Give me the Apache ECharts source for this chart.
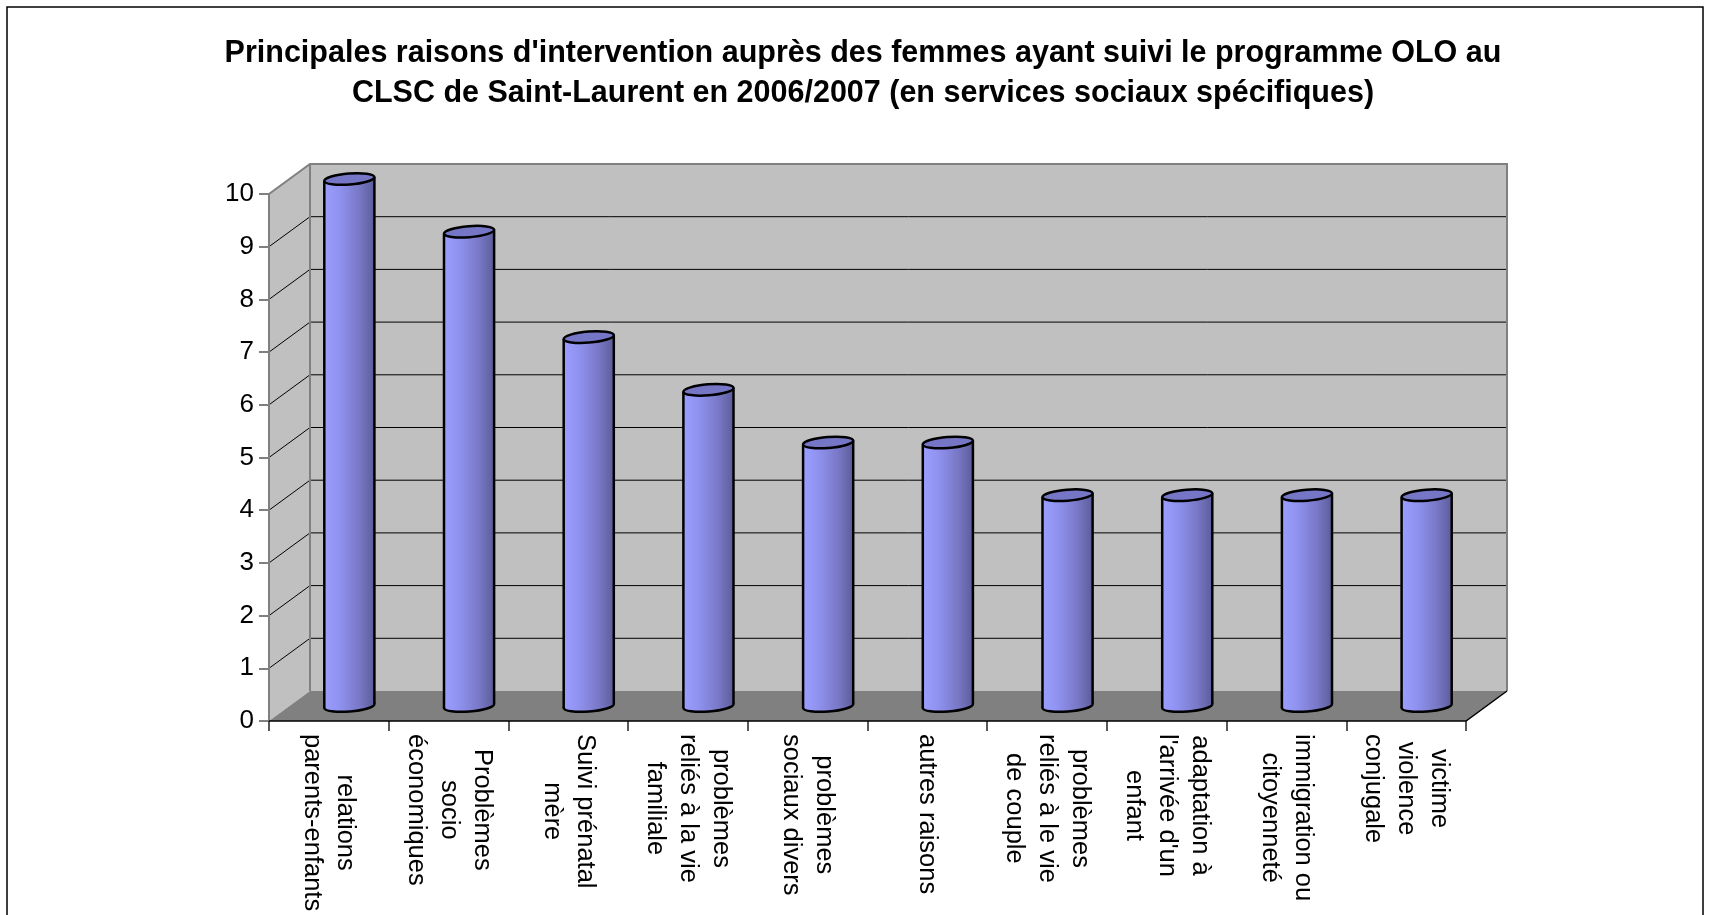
<!DOCTYPE html>
<html>
<head>
<meta charset="utf-8">
<title>Raisons d'intervention OLO</title>
<script src="https://cdn.jsdelivr.net/npm/echarts@6/dist/echarts.min.js"></script>
<style>
  html, body { margin: 0; padding: 0; background: #fff; }
  #main { width: 1709px; height: 915px; }
</style>
</head>
<body>
<div id="main"></div>
<script>
const categories = [
  'relations\nparents-enfants',
  'Problèmes\nsocio\néconomiques',
  'Suivi prénatal\nmère',
  'problèmes\nreliés à la vie\nfamiliale',
  'problèmes\nsociaux divers',
  'autres raisons',
  'problèmes\nreliés à le vie\nde couple',
  "adaptation à\nl'arrivée d'un\nenfant",
  'immigration ou\ncitoyenneté',
  'victime\nviolence\nconjugale'
];
const counts = [10, 9, 7, 6, 5, 5, 4, 4, 4, 4];
const yTicks = [0, 1, 2, 3, 4, 5, 6, 7, 8, 9, 10];

const FONT = 'Arial, "Liberation Sans", sans-serif';
// oblique offset of the back wall (3D depth)
const DEPTH_X = 41, DEPTH_Y = -30;
const TILT = 0.08;

let chart = echarts.init(document.getElementById('main'));

function renderWalls(params, api) {
  if (params.dataIndex !== 0) return;
  const cs = params.coordSys;
  const x0 = cs.x, x1 = cs.x + cs.width;
  const yBot = api.coord([0, yTicks[0]])[1];
  const yTop = api.coord([0, yTicks[yTicks.length - 1]])[1];
  const bx0 = x0 + DEPTH_X, bx1 = x1 + DEPTH_X;
  const children = [];
  children.push({
    type: 'rect',
    shape: { x: bx0, y: yTop + DEPTH_Y, width: x1 - x0, height: yBot - yTop },
    style: { fill: '#c0c0c0' }
  });
  children.push({
    type: 'polygon',
    shape: { points: [[x0, yBot], [x0, yTop], [bx0, yTop + DEPTH_Y], [bx0, yBot + DEPTH_Y]] },
    style: { fill: '#c0c0c0' }
  });
  yTicks.slice(1, -1).forEach(function (t) {
    const y = api.coord([0, t])[1];
    children.push({
      type: 'polyline',
      shape: { points: [[x0, y], [bx0, y + DEPTH_Y], [bx1, y + DEPTH_Y]] },
      style: { stroke: '#000', lineWidth: 1, fill: null }
    });
  });
  children.push({
    type: 'polygon',
    shape: { points: [[x0, yBot], [bx0, yBot + DEPTH_Y], [bx1, yBot + DEPTH_Y], [x1, yBot]] },
    style: { fill: '#808080' }
  });
  children.push({
    type: 'polyline',
    shape: { points: [[x0, yBot], [x0, yTop], [bx0, yTop + DEPTH_Y], [bx1, yTop + DEPTH_Y], [bx1, yBot + DEPTH_Y]] },
    style: { stroke: '#808080', lineWidth: 2, fill: null }
  });
  children.push({
    type: 'line',
    shape: { x1: bx0, y1: yTop + DEPTH_Y, x2: bx0, y2: yBot + DEPTH_Y },
    style: { stroke: '#808080', lineWidth: 2 }
  });
  children.push({
    type: 'polyline',
    shape: { points: [[x0, yBot], [x1, yBot], [bx1, yBot + DEPTH_Y]] },
    style: { stroke: '#000', lineWidth: 1.5, fill: null }
  });
  return { type: 'group', children: children };
}

function renderCylinder(params, api) {
  const i = api.value(0), v = api.value(1);
  const top = api.coord([i, v]);
  const base = api.coord([i, 0]);
  const band = api.size([1, 0])[0];
  const rx = band * 0.21, ry = 5.5;
  const cx = top[0] + DEPTH_X / 2;
  const ty = top[1] + DEPTH_Y / 2, by = base[1] + DEPTH_Y / 2;
  const ex = rx * Math.cos(TILT), ey = rx * Math.sin(TILT);
  const bodyFill = function () {
    return new echarts.graphic.LinearGradient(0, 0, 1, 0, [
      { offset: 0, color: '#9c9eff' },
      { offset: 0.3, color: '#9092f0' },
      { offset: 0.7, color: '#7878c6' },
      { offset: 1, color: '#5c5c9a' }
    ]);
  };
  return {
    type: 'group',
    children: [
      {
        type: 'ellipse', shape: { cx: cx, cy: by, rx: rx, ry: ry },
        rotation: TILT, originX: cx, originY: by,
        style: { fill: bodyFill(), stroke: '#000', lineWidth: 2.5 }
      },
      {
        type: 'polygon',
        shape: { points: [[cx - ex, ty + ey], [cx + ex, ty - ey], [cx + ex, by - ey], [cx - ex, by + ey]] },
        style: { fill: bodyFill() }
      },
      {
        type: 'line', shape: { x1: cx - ex, y1: ty + ey, x2: cx - ex, y2: by + ey },
        style: { stroke: '#000', lineWidth: 2.5 }
      },
      {
        type: 'line', shape: { x1: cx + ex, y1: ty - ey, x2: cx + ex, y2: by - ey },
        style: { stroke: '#000', lineWidth: 2.5 }
      },
      {
        type: 'ellipse', shape: { cx: cx, cy: ty, rx: rx, ry: ry },
        rotation: TILT, originX: cx, originY: ty,
        style: { fill: '#7676c6', stroke: '#000', lineWidth: 2.5 }
      }
    ]
  };
}

let options = {
  animation: false,
  backgroundColor: '#fff',
  title: {
    text: "Principales raisons d'intervention auprès des femmes ayant suivi le programme OLO au\nCLSC de Saint-Laurent en 2006/2007 (en services sociaux spécifiques)",
    left: 858,
    top: 29,
    textAlign: 'center',
    textStyle: { fontFamily: FONT, fontSize: 30.5, fontWeight: 'bold', color: '#000', lineHeight: 40 }
  },
  graphic: [
    {
      type: 'rect', z: -10,
      shape: { x: 7, y: 7, width: 1696, height: 1000 },
      style: { fill: null, stroke: '#000', lineWidth: 1.5 }
    }
  ],
  grid: {
    left: 269,
    right: 243,
    top: 194,
    bottom: 194,
    containLabel: false,
    outerBoundsMode: 'none'
  },
  xAxis: {
    type: 'category',
    data: categories,
    axisLine: { show: false },
    axisTick: { show: true, length: 10, lineStyle: { color: '#222', width: 1.5 } },
    splitLine: { show: false },
    axisLabel: {
      interval: 0,
      rotate: -90,
      margin: 13,
      formatter: function (value) {
        return value.split('\n').map(function (s) { return '{c|' + s + '}'; }).join('\n');
      },
      rich: {
        c: { align: 'center', fontFamily: FONT, fontSize: 25.5, lineHeight: 33, color: '#000' }
      }
    }
  },
  yAxis: {
    type: 'value',
    min: 0,
    max: 10,
    interval: 1,
    axisLine: { show: false },
    axisTick: { show: true, length: 10, lineStyle: { color: '#808080', width: 2 } },
    splitLine: { show: false },
    axisLabel: { margin: 15, fontFamily: FONT, fontSize: 26, color: '#000' }
  },
  series: [
    {
      type: 'custom',
      name: 'walls',
      z: 1,
      silent: true,
      clip: false,
      renderItem: renderWalls,
      data: [[0, 0]]
    },
    {
      type: 'custom',
      name: 'Interventions',
      z: 2,
      clip: false,
      renderItem: renderCylinder,
      data: counts.map(function (c, i) { return [i, c]; })
    }
  ]
};

chart.setOption(options);
window.onresize = function () { chart.resize(); };
</script>
</body>
</html>
